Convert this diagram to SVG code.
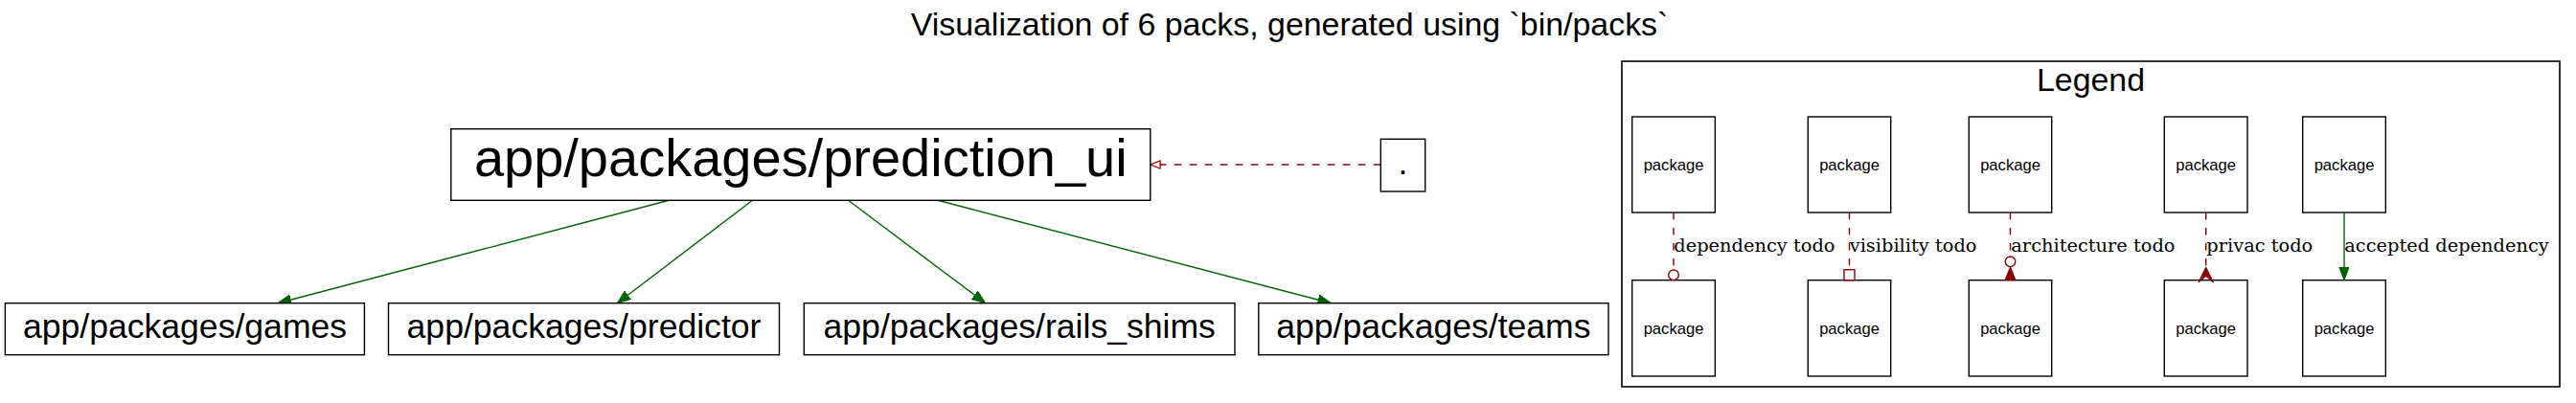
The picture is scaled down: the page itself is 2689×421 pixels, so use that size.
<svg xmlns="http://www.w3.org/2000/svg" width="2689" height="421" viewBox="0 0 2689 421">
<defs>
<style>
.box{fill:#fff;stroke:#000;stroke-width:1.4}
.sans{font-family:"Liberation Sans",Arial,sans-serif;fill:#000;text-anchor:middle}
.serif{font-family:"DejaVu Serif","Liberation Serif",serif;fill:#000;font-size:19.4px}
.green{stroke:#006400;stroke-width:1.4;fill:none}
.red{stroke:#8b0000;stroke-width:1.4;fill:none;stroke-dasharray:7.5,8.5}
</style>
<marker id="ga" markerUnits="userSpaceOnUse" markerWidth="16" markerHeight="12" refX="14" refY="5.3" orient="auto">
<path d="M0,0 L14,5.3 L0,10.6 Z" fill="#006400" stroke="#006400" stroke-width="1"/>
</marker>
<marker id="ro" markerUnits="userSpaceOnUse" markerWidth="14" markerHeight="12" refX="11" refY="5" orient="auto">
<path d="M1,1 L11,5 L1,9 Z" fill="#fff" stroke="#8b0000" stroke-width="1.3"/>
</marker>
</defs>
<rect width="2689" height="421" fill="#fff"/>
<text class="sans" x="1346" y="37" font-size="33.9">Visualization of 6 packs, generated using `bin/packs`</text>

<g id="connectors">
<line class="green" x1="698.3" y1="209.3" x2="290" y2="316.7" marker-end="url(#ga)"/>
<line class="green" x1="785.5" y1="209.3" x2="644.3" y2="316.7" marker-end="url(#ga)"/>
<line class="green" x1="885.5" y1="209.3" x2="1028.6" y2="316.7" marker-end="url(#ga)"/>
<line class="green" x1="979" y1="209.3" x2="1389.5" y2="316.7" marker-end="url(#ga)"/>
<line class="red" x1="1441.3" y1="172" x2="1201" y2="172" marker-end="url(#ro)"/>
</g>

<g id="node-prediction_ui">
<rect class="box" x="470.8" y="134.7" width="730" height="74.6"/>
<text class="sans" x="835.8" y="184.3" font-size="56">app/packages/prediction_ui</text>
</g>
<g id="node-root">
<rect class="box" x="1441.3" y="145.3" width="46.4" height="54.7"/>
<text class="sans" x="1464.5" y="181.7" font-size="35.6">.</text>
</g>
<g id="node-games">
<rect class="box" x="5.4" y="316.7" width="375" height="54"/>
<text class="sans" x="193" y="352.7" font-size="35.6">app/packages/games</text>
</g>
<g id="node-predictor">
<rect class="box" x="405.5" y="316.7" width="408" height="54"/>
<text class="sans" x="609.5" y="352.7" font-size="35.6">app/packages/predictor</text>
</g>
<g id="node-rails_shims">
<rect class="box" x="839.3" y="316.7" width="449.7" height="54"/>
<text class="sans" x="1064.2" y="352.7" font-size="35.6">app/packages/rails_shims</text>
</g>
<g id="node-teams">
<rect class="box" x="1313.8" y="316.7" width="365.2" height="54"/>
<text class="sans" x="1496.4" y="352.7" font-size="35.6">app/packages/teams</text>
</g>

<g id="legend">
<rect x="1693" y="64" width="979" height="340" fill="#fff" stroke="#000" stroke-width="1.6"/>
<text class="sans" x="2182.5" y="95" font-size="33.9">Legend</text>
<g id="legend-nodes" class="sans" font-size="16.6">
<rect class="box" x="1703.7" y="122" width="86.6" height="100"/><text x="1747" y="178.3">package</text>
<rect class="box" x="1703.7" y="292.7" width="86.6" height="100.3"/><text x="1747" y="348.6">package</text>
<rect class="box" x="1887.3" y="122" width="86.4" height="100"/><text x="1930.5" y="178.3">package</text>
<rect class="box" x="1887.3" y="292.7" width="86.4" height="100.3"/><text x="1930.5" y="348.6">package</text>
<rect class="box" x="2055.3" y="122" width="86.4" height="100"/><text x="2098.5" y="178.3">package</text>
<rect class="box" x="2055.3" y="292.7" width="86.4" height="100.3"/><text x="2098.5" y="348.6">package</text>
<rect class="box" x="2259.3" y="122" width="86.7" height="100"/><text x="2302.7" y="178.3">package</text>
<rect class="box" x="2259.3" y="292.7" width="86.7" height="100.3"/><text x="2302.7" y="348.6">package</text>
<rect class="box" x="2403.7" y="122" width="86.6" height="100"/><text x="2447" y="178.3">package</text>
<rect class="box" x="2403.7" y="292.7" width="86.6" height="100.3"/><text x="2447" y="348.6">package</text>
</g>
<g id="legend-connectors">
<line class="red" x1="1747" y1="222" x2="1747" y2="282"/>
<circle cx="1747" cy="287.3" r="5.3" fill="#fff" stroke="#8b0000" stroke-width="1.4"/>
<line class="red" x1="1930.5" y1="222" x2="1930.5" y2="281.7"/>
<rect x="1925" y="281.7" width="11" height="11" fill="#fff" stroke="#8b0000" stroke-width="1.4"/>
<line class="red" x1="2098.5" y1="222" x2="2098.5" y2="268"/>
<circle cx="2098.5" cy="273.3" r="5.3" fill="#fff" stroke="#8b0000" stroke-width="1.4"/>
<path d="M2098.5,278.8 L2104,292.7 L2093,292.7 Z" fill="#8b0000" stroke="#8b0000" stroke-width="1"/>
<line class="red" x1="2302.7" y1="222" x2="2302.7" y2="281"/>
<path d="M2302.7,279 L2310.5,295 L2302.7,288.5 L2294.9,295 Z" fill="#8b0000" stroke="#8b0000" stroke-width="1"/>
<line class="green" x1="2447" y1="222" x2="2447" y2="292.7" marker-end="url(#ga)"/>
</g>
<g id="legend-labels" class="serif">
<text x="1747.3" y="263.3">dependency todo</text>
<text x="1930.7" y="263.3">visibility todo</text>
<text x="2099.3" y="263.3">architecture todo</text>
<text x="2303.3" y="263.3">privac todo</text>
<text x="2447.3" y="263.3">accepted dependency</text>
</g>
</g>
</svg>
